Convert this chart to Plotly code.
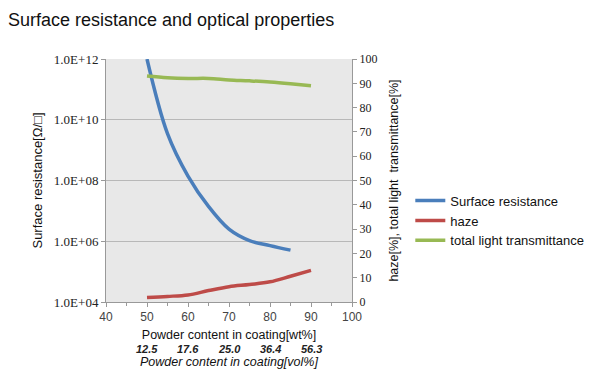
import plotly.graph_objects as go

wt_res = [50, 55, 60, 65, 70, 75, 80, 85]
surface_resistance = [1.0e12, 3.5e9, 1.4e8, 1.4e7, 2.5e6, 1.05e6, 7.2e5, 5.1e5]

wt_opt = [50, 55, 60, 65, 70, 75, 80, 85, 90]
haze = [1.9, 2.3, 2.9, 4.7, 6.3, 7.2, 8.3, 10.6, 13.0]
transmittance = [93.0, 92.3, 92.0, 92.0, 91.4, 91.0, 90.5, 89.8, 89.0]

left_tickvals = [1e4, 1e6, 1e8, 1e10, 1e12]
left_ticktext = ["1.0E+04", "1.0E+06", "1.0E+08", "1.0E+10", "1.0E+12"]
vol_positions = [50, 60, 70, 80, 90]
vol_labels = ["12.5", "17.6", "25.0", "36.4", "56.3"]

BLUE = "#4a7ebb"
RED = "#be4b48"
GREEN = "#98b954"

fig = go.Figure()
fig.add_trace(go.Scatter(x=wt_res, y=surface_resistance, name="Surface resistance",
                         mode="lines", line=dict(color=BLUE, width=3.5, shape="spline"),
                         yaxis="y"))
fig.add_trace(go.Scatter(x=wt_opt, y=haze, name="haze", mode="lines",
                         line=dict(color=RED, width=3.5, shape="spline"), yaxis="y2"))
fig.add_trace(go.Scatter(x=wt_opt, y=transmittance, name="total light transmittance",
                         mode="lines", line=dict(color=GREEN, width=3.5, shape="spline"),
                         yaxis="y2"))

for xv, lab in zip(vol_positions, vol_labels):
    fig.add_annotation(x=xv, y=-0.193, xref="x", yref="paper", text="<b><i>" + lab + "</i></b>",
                       showarrow=False, yanchor="middle",
                       font=dict(family="Liberation Sans", size=11, color="#222"))
fig.add_annotation(x=70, y=-0.247, xref="x", yref="paper", yanchor="middle",
                   text="<i>Powder content in coating[vol%]</i>", showarrow=False,
                   font=dict(family="Liberation Sans", size=12.5, color="#111"))

fig.update_layout(
    width=600, height=390,
    margin=dict(l=98, r=256, t=51, b=96),
    paper_bgcolor="white", plot_bgcolor="#e8e8e8",
    title=dict(text="Surface resistance and optical properties", x=0.0, xanchor="left",
               y=0.969, yanchor="middle", font=dict(family="Liberation Sans", size=18, color="#111")),
    showlegend=True,
    legend=dict(x=1.237, y=0.335, xanchor="left", yanchor="middle", bgcolor="rgba(0,0,0,0)",
                font=dict(family="Liberation Sans", size=13, color="#111"),
                tracegroupgap=0, itemwidth=30),
    xaxis=dict(range=[40, 100], dtick=10, showgrid=False, zeroline=False, automargin=False,
               showline=True, linecolor="#999", ticks="outside", ticklen=4, tickcolor="#999",
               minor=dict(dtick=5, ticks="outside", ticklen=3, tickcolor="#999"),
               tickfont=dict(family="Liberation Sans", size=12, color="#444"),
               title=dict(text="Powder content in coating[wt%]", standoff=6,
                          font=dict(family="Liberation Sans", size=12.5, color="#111"))),
    yaxis=dict(type="log", range=[4, 12], tickvals=left_tickvals, ticktext=left_ticktext,
               showgrid=True, gridcolor="#b8b8b8", gridwidth=1, zeroline=False, automargin=False,
               showline=True, linecolor="#999", ticks="outside", ticklen=4, tickcolor="#999",
               tickfont=dict(family="Liberation Serif", size=13, color="#222"),
               title=dict(text="Surface resistance[Ω/□]", standoff=8,
                          font=dict(family="Liberation Sans", size=13, color="#111"))),
    yaxis2=dict(range=[0, 100], dtick=10, overlaying="y", side="right", showgrid=False,
                zeroline=False, showline=True, linecolor="#999", ticks="outside", ticklen=4,
                automargin=False,
                tickcolor="#999", tickfont=dict(family="Liberation Serif", size=12, color="#222"),
                title=dict(text="haze[%], total light  transmittance[%]", standoff=12,
                           font=dict(family="Liberation Sans", size=12.5, color="#111"))),
)

fig.write_html("out.html")
